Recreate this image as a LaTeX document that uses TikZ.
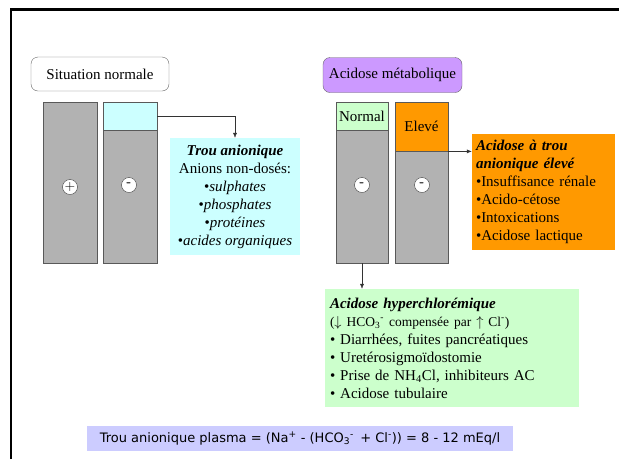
\documentclass[tikz,border=0pt]{standalone}
\usepackage{fontspec}
\setmainfont{Liberation Serif}
\newfontfamily\formulafont{DejaVu Sans}
\usetikzlibrary{positioning,arrows.meta}

\definecolor{gapcyan}{RGB}{204,255,255}
\definecolor{lilac}{RGB}{204,153,255}
\definecolor{mint}{RGB}{204,255,204}
\definecolor{amber}{RGB}{255,153,0}
\definecolor{bargray}{RGB}{178,178,178}
\definecolor{periwinkle}{RGB}{204,204,255}

\begin{document}
\begin{tikzpicture}[x=1pt,y=-1pt,
  every node/.style={font=\fontsize{15}{18}\selectfont},
  titlebox/.style={draw=black!60, rounded corners=7pt, minimum width=138pt,
    minimum height=34pt, inner sep=0pt},
  bar/.style={draw=black!65, fill=bargray, line width=0.8pt,
    minimum width=54pt, inner sep=0pt},
  sign/.style={circle, draw=black!75, fill=white, minimum size=15pt,
    inner sep=0pt, font=\sffamily\bfseries\fontsize{14}{14}\selectfont},
  infobox/.style={inner xsep=4pt, inner ysep=0pt},
  link/.style={-{Latex[length=5pt,width=4pt]}, black!80}]
  \useasboundingbox (0,0) rectangle (619,459);
  % page frame
  \draw[line width=2.5pt] (11,459) -- (11,9.5) -- (619,9.5);

  % normal situation
  \node[titlebox] (normtitle) at (100,74) {Situation normale};
  \node[bar, minimum height=161pt] (cations) at (70,182.5) {};
  \node[bar, fill=gapcyan, minimum height=28pt] (gapN) at (130,116) {};
  \node[bar, minimum height=133pt] (anionsN) at (130,196.5) {};
  \node[sign, font=\sffamily\fontsize{14}{14}\selectfont] (plus) at (70,187) {+};
  \node[sign] (minusN) at (129,185) {-};

  \node[infobox, fill=gapcyan, minimum width=130pt, minimum height=117pt,
    align=center] (trou) at (235,196.5)
    {\textbf{\textit{Trou anionique}}\\ Anions non-dosés:\\
     •\textit{sulphates}\\ •\textit{phosphates}\\ •\textit{protéines}\\
     •\textit{acides organiques}};
  \draw[link] (gapN.east) -| (trou.north);

  % metabolic acidosis
  \node[titlebox, fill=lilac, minimum width=139pt, minimum height=35pt]
    (acidtitle) at (392.5,75) {Acidose métabolique};
  \node[bar, fill=mint, minimum width=52pt, minimum height=28pt]
    (normal) at (362,116) {Normal};
  \node[bar, minimum width=52pt, minimum height=133pt] (anionsA) at (362,196.5) {};
  \node[bar, fill=amber, minimum width=53pt, minimum height=49pt]
    (eleve) at (421.5,126.5) {Elevé};
  \node[bar, minimum width=53pt, minimum height=112pt] (anionsB) at (421.5,207) {};
  \node[sign] (minusA) at (362,185) {-};
  \node[sign] (minusB) at (422,185) {-};

  \node[infobox, fill=amber, text width=135pt, minimum height=116pt,
    align=left] (agap) at (543.5,192)
    {\textbf{\textit{Acidose à trou}}\\ \textbf{\textit{anionique élevé}}\\
     •Insuffisance rénale\\ •Acido-cétose\\ •Intoxications\\
     •Acidose lactique};
  \draw[link] (eleve.south east) -- (eleve.south east -| agap.west);

  \node[infobox, inner xsep=5pt, fill=mint, text width=244pt,
    minimum height=118pt, align=left] (hyper) at (452,348)
    {\textbf{\textit{Acidose hyperchlorémique}}\\
     {\fontsize{13.5}{17}\selectfont($\downarrow$ HCO\textsubscript{3}\textsuperscript{-}
       compensée par $\uparrow$ Cl\textsuperscript{-})}\\
     • Diarrhées, fuites pancréatiques\\ • Uretérosigmoïdostomie\\
     • Prise de NH\textsubscript{4}Cl, inhibiteurs AC\\ • Acidose tubulaire};
  \draw[link] (anionsA.south) -- (anionsA.south |- hyper.north);

  % plasma formula
  \node[fill=periwinkle, minimum width=426pt, minimum height=25pt,
    font=\formulafont\fontsize{13}{15}\selectfont] (plasma) at (300,438.5)
    {Trou anionique plasma = (Na\textsuperscript{+} - (HCO\textsubscript{3}\textsuperscript{-}\enspace
     + Cl\textsuperscript{-})) = 8 - 12 mEq/l};
\end{tikzpicture}
\end{document}
